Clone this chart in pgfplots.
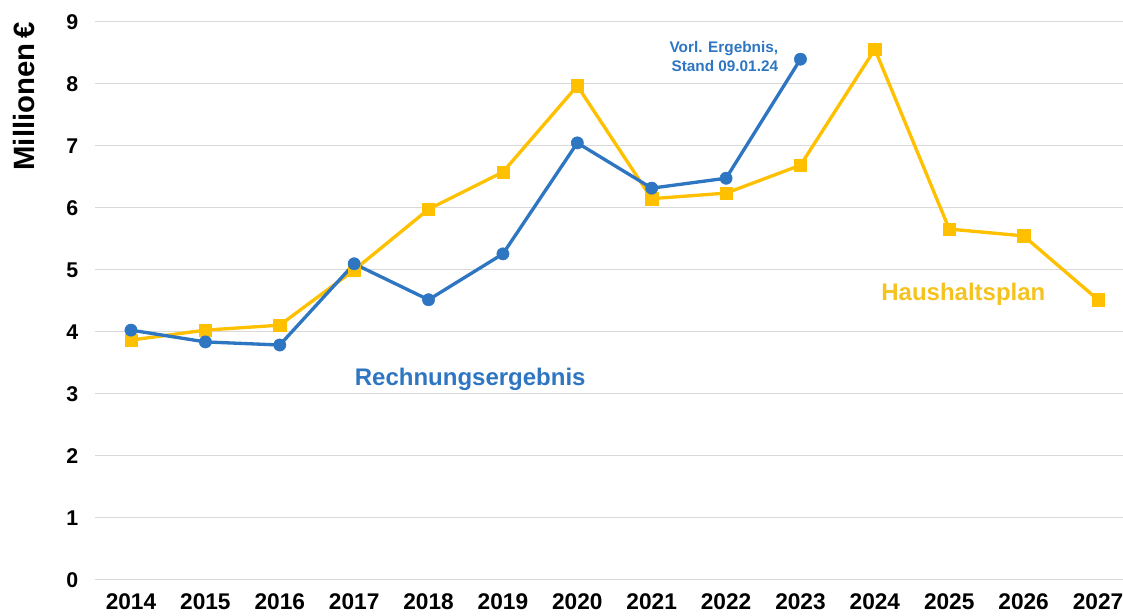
\documentclass[border=0pt]{standalone}
\usepackage{fontspec}
\setmainfont{Liberation Sans}
\usepackage{pgfplots}
\pgfplotsset{compat=1.18}
\definecolor{blueline}{HTML}{2E76C2}
\definecolor{goldline}{HTML}{FFC000}
\definecolor{goldtext}{HTML}{F5C320}
\definecolor{gridgray}{HTML}{D9D9D9}

\begin{document}
\begin{tikzpicture}
\begin{axis}[
 scale only axis, width=771pt, height=418.5pt,
 xmin=-0.484, xmax=13.336, ymin=0, ymax=9,
 axis line style={draw=none},
 tick style={draw=none},
 ymajorgrids, grid style={gridgray, line width=0.75pt},
 xtick={0,1,2,3,4,5,6,7,8,9,10,11,12,13},
 xticklabels={2014,2015,2016,2017,2018,2019,2020,2021,2022,2023,2024,2025,2026,2027},
 ytick={0,1,2,3,4,5,6,7,8,9},
 /pgf/number format/assume math mode=true,
 yticklabel style={font=\fontsize{16}{18}\selectfont\bfseries, xshift=-9pt},
 xticklabel style={font=\fontsize{17}{19}\selectfont\bfseries, yshift=-7pt},
 clip=false,
]
\addplot[goldline, line width=2.5pt, mark=square*, mark size=4.6pt,
  mark options={solid, fill=goldline, draw=goldline, line width=0.4pt}]
 coordinates {(0,3.87) (1,4.03) (2,4.11) (3,5.00) (4,5.98) (5,6.58) (6,7.97)
  (7,6.15) (8,6.24) (9,6.69) (10,8.56) (11,5.66) (12,5.55) (13,4.52)};
\addplot[blueline, line width=2.5pt, mark=*, mark size=4.6pt,
  mark options={solid, fill=blueline, draw=blueline, line width=0.4pt}]
 coordinates {(0,4.03) (1,3.84) (2,3.79) (3,5.10) (4,4.52) (5,5.26) (6,7.05)
  (7,6.32) (8,6.48) (9,8.40)};
\node[font=\fontsize{18}{20}\selectfont\bfseries, text=blueline] at (axis cs:4.56,3.24) {Rechnungsergebnis};
\node[font=\fontsize{18}{20}\selectfont\bfseries, text=goldtext] at (axis cs:11.19,4.6) {Haushaltsplan};
\node[align=right, font=\fontsize{11.5}{14.25}\selectfont\bfseries, text=blueline] at (axis cs:7.97,8.44) {Vorl. Ergebnis,\\Stand 09.01.24};
\node[rotate=90, anchor=east, inner sep=0pt, font=\fontsize{22}{24}\selectfont\bfseries] at ([xshift=-53.25pt,yshift=0pt]rel axis cs:0,1) {Millionen\,€};
\coordinate (bl) at (rel axis cs:0,0);
\coordinate (tr) at (rel axis cs:1,1);
\end{axis}
\pgfresetboundingbox
\path[use as bounding box] ([xshift=-71.25pt,yshift=-27pt]bl) rectangle ([yshift=16.5pt]tr);
\end{tikzpicture}
\end{document}
